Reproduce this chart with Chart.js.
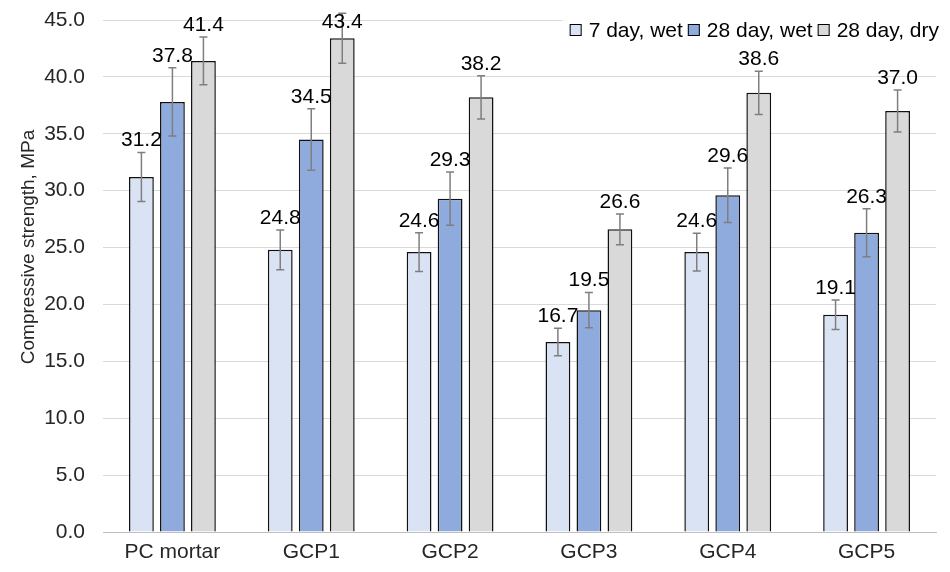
<!DOCTYPE html>
<html>
<head>
<meta charset="utf-8">
<script src="https://cdn.jsdelivr.net/npm/chart.js@4.4.1/dist/chart.umd.min.js"></script>
<style>
  body { margin: 0; background: #fff; }
</style>
</head>
<body>
<canvas id="strengthChart" width="950" height="572"></canvas>
<script>
const categories = ["PC mortar", "GCP1", "GCP2", "GCP3", "GCP4", "GCP5"];
const seriesNames = ["7 day, wet", "28 day, wet", "28 day, dry"];
const wet7 = [31.2, 24.8, 24.6, 16.7, 24.6, 19.1];
const wet28 = [37.8, 34.5, 29.3, 19.5, 29.6, 26.3];
const dry28 = [41.4, 43.4, 38.2, 26.6, 38.6, 37.0];
// standard deviations
const wet7Err = [2.15, 1.75, 1.7, 1.2, 1.65, 1.3];
const wet28Err = [3.0, 2.7, 2.35, 1.55, 2.4, 2.1];
const dry28Err = [2.1, 2.2, 1.9, 1.35, 1.9, 1.85];

const FONT = "'Liberation Sans', Arial, sans-serif";

// whiskers + value labels (Excel style "outside end")
const errorBars = {
  id: "errorBars",
  afterDatasetsDraw(chart) {
    const ctx = chart.ctx;
    const y = chart.scales.y;
    const labels = [];
    ctx.save();
    ctx.strokeStyle = "#7f7f7f";
    ctx.lineWidth = 1.5;
    chart.data.datasets.forEach((ds, i) => {
      chart.getDatasetMeta(i).data.forEach((bar, j) => {
        const v = ds.data[j];
        const e = ds.errors[j];
        const top = y.getPixelForValue(v + e);
        const bot = y.getPixelForValue(v - e);
        ctx.beginPath();
        ctx.moveTo(bar.x, top);
        ctx.lineTo(bar.x, bot);
        ctx.moveTo(bar.x - 4, top);
        ctx.lineTo(bar.x + 4, top);
        ctx.moveTo(bar.x - 4, bot);
        ctx.lineTo(bar.x + 4, bot);
        ctx.stroke();
        labels.push([v.toFixed(1), bar.x, Math.max(top - 12, chart.chartArea.top + 2)]);
      });
    });
    ctx.fillStyle = "#000";
    ctx.font = "21px " + FONT;
    ctx.textAlign = "center";
    ctx.textBaseline = "middle";
    labels.forEach(([t, x, yy]) => ctx.fillText(t, x, yy));
    ctx.restore();
  },
};

// legend sits inside the plot, top right, on a white patch
const insideLegend = {
  id: "insideLegend",
  afterDraw(chart) {
    const ctx = chart.ctx;
    const area = chart.chartArea;
    const ds = chart.data.datasets;
    ctx.save();
    ctx.font = "21px " + FONT;
    const widths = ds.map((d) => 12 + 7 + ctx.measureText(d.label).width);
    const total = widths.reduce((a, b) => a + b, 0) + 5 * (ds.length - 1);
    let x = area.right + 3 - total;
    const cy = 30;
    ctx.fillStyle = "#fff";
    ctx.fillRect(x - 7, area.top - 4, total + 14, 24);
    ctx.textBaseline = "middle";
    ds.forEach((d, i) => {
      ctx.fillStyle = d.backgroundColor;
      ctx.fillRect(x, cy - 6, 12, 12);
      ctx.strokeStyle = "#000";
      ctx.lineWidth = 1;
      ctx.strokeRect(x + 0.5, cy - 5.5, 11, 11);
      ctx.fillStyle = "#000";
      ctx.fillText(d.label, x + 19, cy + 1);
      x += widths[i] + 5;
    });
    ctx.restore();
  },
};

const ctx = document.getElementById("strengthChart").getContext("2d");
new Chart(ctx, {
  type: "bar",
  data: {
    labels: categories,
    datasets: [
      { label: seriesNames[0], data: wet7, errors: wet7Err, backgroundColor: "#DAE3F3" },
      { label: seriesNames[1], data: wet28, errors: wet28Err, backgroundColor: "#8FAADC" },
      { label: seriesNames[2], data: dry28, errors: dry28Err, backgroundColor: "#D9D9D9" },
    ],
  },
  options: {
    responsive: false,
    animation: false,
    layout: { padding: { top: 20, right: 14, left: 0, bottom: 0 } },
    datasets: {
      bar: {
        borderColor: "#111",
        borderWidth: 1.5,
        categoryPercentage: 0.67,
        barPercentage: 0.8,
      },
    },
    plugins: {
      legend: { display: false },
      tooltip: { enabled: false },
    },
    scales: {
      x: {
        grid: { display: false, drawTicks: false },
        border: { color: "#bfbfbf", width: 1 },
        ticks: { color: "#262626", font: { family: FONT, size: 21 }, padding: 8 },
        afterFit: (s) => { s.height = 40; },
      },
      y: {
        min: 0,
        max: 45,
        // invisible tick marks push the labels away from the plot
        grid: { color: "#d9d9d9", lineWidth: 1, drawTicks: true, tickLength: 18, tickColor: "rgba(0,0,0,0)" },
        border: { display: false },
        ticks: {
          stepSize: 5,
          color: "#262626",
          font: { family: FONT, size: 21 },
          padding: 0,
          callback: (v) => v.toFixed(1),
        },
        title: {
          display: true,
          // leading spaces nudge the title up a bit, like the original
          text: "           Compressive strength, MPa",
          color: "#262626",
          font: { family: FONT, size: 19 },
          padding: { top: 17, bottom: 0 },
        },
        afterFit: (s) => { s.width = 103; },
      },
    },
  },
  plugins: [errorBars, insideLegend],
});
</script>
</body>
</html>
